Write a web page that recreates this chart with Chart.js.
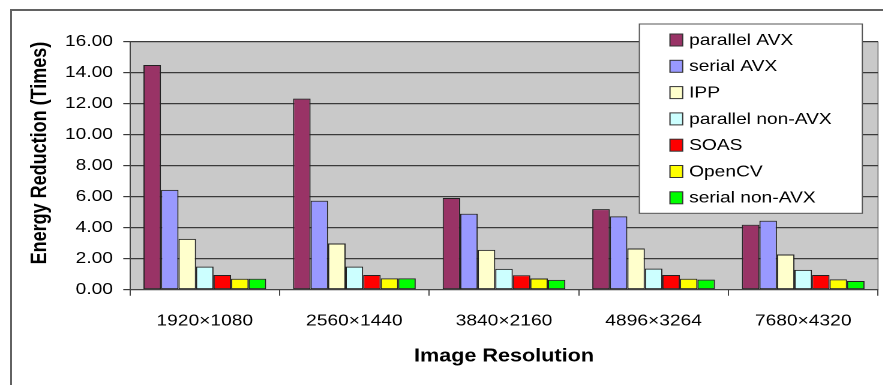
<!DOCTYPE html>
<html>
<head>
<meta charset="utf-8">
<script src="https://cdn.jsdelivr.net/npm/chart.js@4/dist/chart.umd.min.js"></script>
<style>
  html, body { margin: 0; padding: 0; background: #fff; overflow: hidden; }
  /* outer frame round the whole figure */
  #marco { position: absolute; left: 10px; top: 9px; width: 900px; height: 400px;
           border-left: 2px solid #626262; border-top: 2px solid #626262; }
  /* the figure is drawn narrow and then widened */
  #lienzo { position: absolute; left: 0; top: 0; width: 736px; height: 385px;
            transform: scaleX(1.2); transform-origin: 0 0; }
</style>
</head>
<body>
<div id="marco"></div>
<div id="lienzo"><canvas id="miGrafico" width="736" height="385"></canvas></div>
<script>
// Resoluciones de imagen (eje X)
const resoluciones = ["1920×1080", "2560×1440", "3840×2160", "4896×3264", "7680×4320"];

// Reducción de energía por variante (veces)
const parallelAVX    = [14.50, 12.33, 5.92, 5.20, 4.19];
const serialAVX      = [6.44, 5.74, 4.90, 4.73, 4.45];
const ipp            = [3.28, 2.98, 2.57, 2.66, 2.27];
const parallelNonAVX = [1.49, 1.49, 1.34, 1.36, 1.28];
const soas           = [0.95, 0.95, 0.93, 0.95, 0.95];
const opencv         = [0.71, 0.73, 0.72, 0.71, 0.67];
const serialNonAVX   = [0.71, 0.73, 0.63, 0.65, 0.56];

// Marcas del eje Y
const marcasY = [0, 2, 4, 6, 8, 10, 12, 14, 16];

const series = [
    { label: "parallel AVX",     data: parallelAVX,    color: "#993366" },
    { label: "serial AVX",       data: serialAVX,      color: "#9999ff" },
    { label: "IPP",              data: ipp,            color: "#ffffcc" },
    { label: "parallel non-AVX", data: parallelNonAVX, color: "#ccffff" },
    { label: "SOAS",             data: soas,           color: "#ff0000" },
    { label: "OpenCV",           data: opencv,         color: "#ffff00" },
    { label: "serial non-AVX",   data: serialNonAVX,   color: "#00ff00" }
];

const fuente = "'Liberation Sans', Arial, sans-serif";

// Fondo gris del área de trazado
const fondoGris = {
    id: 'fondoGris',
    beforeDraw(chart) {
        const { ctx, chartArea: a } = chart;
        ctx.save();
        ctx.fillStyle = '#c9c9c9';
        ctx.fillRect(a.left, a.top, a.right - a.left, a.bottom - a.top);
        ctx.strokeStyle = '#8a8a8a';
        ctx.lineWidth = 1;
        ctx.beginPath();
        ctx.moveTo(a.right, a.top);
        ctx.lineTo(a.right, a.bottom);
        ctx.stroke();
        ctx.restore();
    }
};

// Leyenda en recuadro blanco sobre la esquina superior derecha
const leyendaCaja = {
    id: 'leyendaCaja',
    afterDraw(chart) {
        const ctx = chart.ctx;
        const x0 = 532.8, y0 = 24, w = 185.8, h = 189.3;
        ctx.save();
        ctx.fillStyle = '#ffffff';
        ctx.fillRect(x0, y0, w, h);
        ctx.strokeStyle = '#555555';
        ctx.lineWidth = 1;
        ctx.strokeRect(x0, y0, w, h);
        ctx.font = "16px " + fuente;
        ctx.textBaseline = 'middle';
        ctx.textAlign = 'left';
        chart.data.datasets.forEach((ds, i) => {
            const y = 40 + i * 26.3;
            ctx.fillStyle = ds.backgroundColor;
            ctx.fillRect(558.3, y - 6, 10.6, 12);
            ctx.strokeStyle = '#333333';
            ctx.strokeRect(558.3, y - 6, 10.6, 12);
            ctx.fillStyle = '#000000';
            ctx.fillText(ds.label, 574.2, y + 0.5);
        });
        ctx.restore();
    }
};

const ctx = document.getElementById('miGrafico').getContext('2d');

new Chart(ctx, {
    type: 'bar',
    data: {
        labels: resoluciones,
        datasets: series.map(s => ({
            label: s.label,
            data: s.data,
            backgroundColor: s.color,
            borderColor: '#222222',
            borderWidth: 1,
            borderSkipped: false,
            categoryPercentage: 0.82,
            barPercentage: 1.0
        }))
    },
    options: {
        responsive: false,
        devicePixelRatio: 2,
        animation: false,
        layout: { padding: { top: 41.7, right: 4.33, bottom: 0, left: 0 } },
        plugins: {
            legend: { display: false },
            tooltip: { enabled: false }
        },
        scales: {
            x: {
                afterFit: (scale) => { scale.height = 95.3; },
                grid: {
                    offset: true,
                    drawOnChartArea: false,
                    drawTicks: true,
                    tickLength: 6,
                    color: '#444444',
                    lineWidth: 1
                },
                border: { color: '#444444', width: 1 },
                ticks: {
                    color: '#000',
                    padding: 15.7,
                    font: { family: fuente, size: 16 }
                },
                title: {
                    display: true,
                    text: 'Image Resolution',
                    color: '#000',
                    font: { family: fuente, size: 18, weight: 'bold' },
                    padding: { top: 0, bottom: 17.7 }
                }
            },
            y: {
                min: 0,
                max: 16,
                afterFit: (scale) => { scale.width = 108.3; },
                afterBuildTicks: (scale) => { scale.ticks = marcasY.map(v => ({ value: v })); },
                grid: {
                    color: '#3a3a3a',
                    lineWidth: 1.2,
                    tickLength: 5.6
                },
                border: { color: '#444444', width: 1 },
                ticks: {
                    color: '#000',
                    padding: 8.5,
                    font: { family: fuente, size: 16 },
                    callback: (v) => Number(v).toFixed(2)
                },
                title: {
                    display: true,
                    text: 'Energy Reduction (Times)',
                    align: 'end',
                    color: '#000',
                    font: { family: fuente, size: 18, weight: 'bold' },
                    padding: { top: 22.5, bottom: 0 }
                }
            }
        }
    },
    plugins: [fondoGris, leyendaCaja]
});
</script>
</body>
</html>
